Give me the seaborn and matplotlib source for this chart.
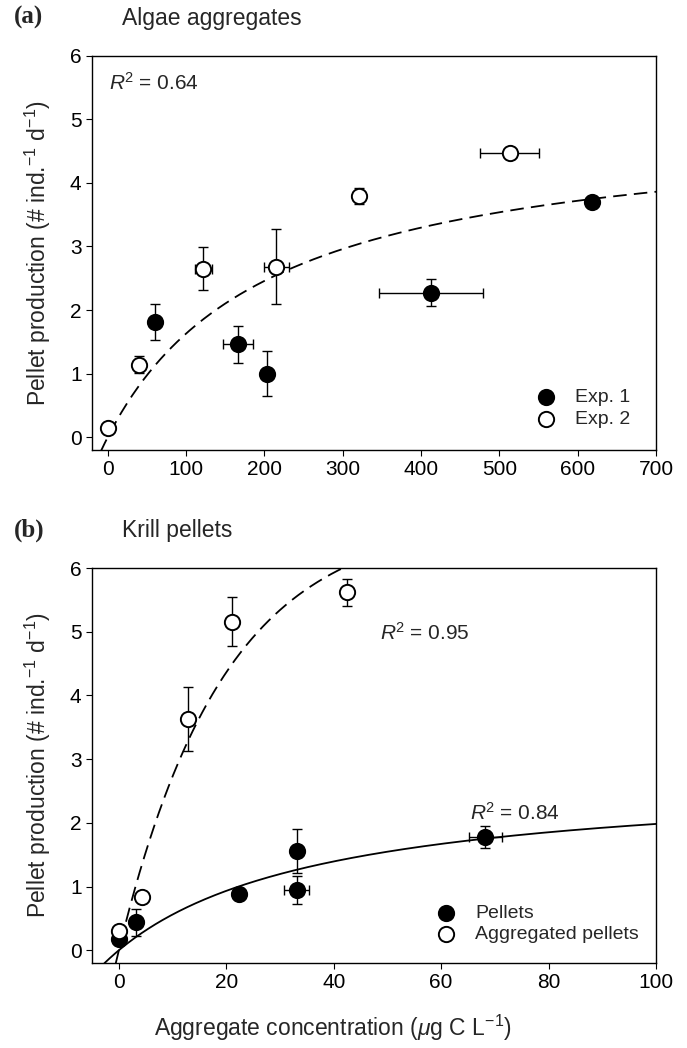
import numpy as np
import pandas as pd
import matplotlib
matplotlib.use("Agg")
import matplotlib.pyplot as plt
import seaborn as sns

# ---------------- data ----------------
# Panel (a) Algae aggregates
a_exp1_x = [61, 166, 204, 413, 618]
a_exp1_y = [1.81, 1.46, 1.00, 2.27, 3.69]
a_exp1_yerr = [0.28, 0.29, 0.35, 0.21, 0.05]
a_exp1_xerr = [0, 19, 0, 66, 0]

a_exp2_x = [0, 40, 122, 215, 321, 513]
a_exp2_y = [0.14, 1.14, 2.65, 2.68, 3.79, 4.46]
a_exp2_yerr = [0.0, 0.13, 0.34, 0.59, 0.13, 0.06]
a_exp2_xerr = [0, 0, 11, 16, 0, 38]

# Panel (b) Krill pellets
b_pel_x = [0, 3.1, 22.3, 33.1, 33.1, 68.2]
b_pel_y = [0.18, 0.44, 0.88, 1.56, 0.95, 1.78]
b_pel_yerr = [0.05, 0.21, 0.05, 0.34, 0.22, 0.17]
b_pel_xerr = [0, 0, 0, 0, 2.3, 3.1]

b_agg_x = [0, 4.3, 12.8, 21.0, 42.4]
b_agg_y = [0.30, 0.83, 3.63, 5.16, 5.62]
b_agg_yerr = [0.05, 0.06, 0.50, 0.39, 0.21]
b_agg_xerr = [0, 0, 0, 0, 0]

# fitted saturation curves (parameters)
a_fit_vmax, a_fit_k = 5.0, 207.0          # Michaelis-Menten, panel a
b_pel_vmax, b_pel_k = 2.76, 39.2          # Michaelis-Menten, pellets
b_agg_amax, b_agg_rate = 6.8, 0.0513      # exponential rise, aggregated pellets

r2_a = "0.64"
r2_b_agg = "0.95"
r2_b_pel = "0.84"

# ---------------- style ----------------
sns.set_theme(style="ticks")
plt.rcParams['font.family'] = ['Liberation Sans', 'DejaVu Sans']
plt.rcParams['mathtext.fontset'] = 'custom'
plt.rcParams['mathtext.rm'] = 'Liberation Sans'
plt.rcParams['mathtext.it'] = 'Liberation Sans:italic'
plt.rcParams['axes.edgecolor'] = 'black'
plt.rcParams['axes.linewidth'] = 1.0
plt.rcParams['xtick.color'] = 'black'
plt.rcParams['ytick.color'] = 'black'
plt.rcParams['xtick.major.size'] = 4
plt.rcParams['ytick.major.size'] = 4
plt.rcParams['xtick.major.width'] = 0.8
plt.rcParams['ytick.major.width'] = 0.8

fig = plt.figure(figsize=(6.87, 10.48), dpi=100)
L, R = 92 / 687, 656 / 687
axa = fig.add_axes([L, 1 - 450 / 1048, R - L, (450 - 55.5) / 1048])
axb = fig.add_axes([L, 1 - 963 / 1048, R - L, (963 - 568) / 1048])

TICK_FS = 15
LAB_FS = 16.5
LEG_FS = 14
MS = 11
ylab = r"Pellet production (# ind.$^{-1}$ d$^{-1}$)"


def draw_points(ax, x, y, xerr, yerr, filled, label, z):
    df = pd.DataFrame({"x": x, "y": y})
    ax.errorbar(x, y, yerr=yerr, xerr=xerr, fmt="none", ecolor="black",
                elinewidth=1.0, capsize=3.5, capthick=1.0, zorder=z)
    sns.scatterplot(data=df, x="x", y="y", ax=ax, s=MS ** 2, marker="o",
                    color="black" if filled else "white",
                    edgecolor="black", linewidth=1.4, zorder=z + 0.5,
                    label=label, legend=False)


# ---------- panel a ----------
xa = np.linspace(-9, 700, 400)
ya = a_fit_vmax * xa / (a_fit_k + xa)
sns.lineplot(x=xa, y=ya, ax=axa, color="black", lw=1.3, zorder=2)
axa.lines[-1].set_dashes((7.5, 4))

draw_points(axa, a_exp1_x, a_exp1_y, a_exp1_xerr, a_exp1_yerr, True, "Exp. 1", 3)
draw_points(axa, a_exp2_x, a_exp2_y, a_exp2_xerr, a_exp2_yerr, False, "Exp. 2", 4)

axa.set_xlim(-20, 700)
axa.set_ylim(-0.2, 6)
axa.set_xticks(range(0, 701, 100))
axa.set_yticks(range(0, 7))
axa.tick_params(labelsize=TICK_FS)
axa.set_xlabel("")
axa.set_ylabel(ylab, fontsize=LAB_FS, labelpad=12)
axa.text(0.03, 0.93, r"$\it{R}$$^2$ = " + r2_a, transform=axa.transAxes,
         fontsize=TICK_FS, ha="left", va="center")
h, l = axa.get_legend_handles_labels()
axa.legend(h, l, loc="lower right", frameon=False, fontsize=LEG_FS,
           bbox_to_anchor=(0.975, 0.025), handletextpad=0.5, labelspacing=0.25,
           borderaxespad=0.2)

# ---------- panel b ----------
xb1 = np.linspace(-2.7, 100, 400)
yb1 = b_pel_vmax * xb1 / (b_pel_k + xb1)
sns.lineplot(x=xb1, y=yb1, ax=axb, color="black", lw=1.3, zorder=2)

xb2 = np.linspace(-0.6, 44, 300)
yb2 = b_agg_amax * (1 - np.exp(-b_agg_rate * xb2))
sns.lineplot(x=xb2, y=yb2, ax=axb, color="black", lw=1.3, zorder=2)
axb.lines[-1].set_dashes((8, 4))

draw_points(axb, b_pel_x, b_pel_y, b_pel_xerr, b_pel_yerr, True, "Pellets", 3)
draw_points(axb, b_agg_x, b_agg_y, b_agg_xerr, b_agg_yerr, False, "Aggregated pellets", 4)

axb.set_xlim(-5, 100)
axb.set_ylim(-0.2, 6)
axb.set_xticks(range(0, 101, 20))
axb.set_yticks(range(0, 7))
axb.tick_params(labelsize=TICK_FS)
axb.set_ylabel(ylab, fontsize=LAB_FS, labelpad=12)
axb.set_xlabel(r"Aggregate concentration ($\it{\mu}$g C L$^{-1}$)",
               fontsize=LAB_FS, labelpad=14)
axb.xaxis.set_label_coords((333 - 92) / 564, -0.125)
axb.text(0.51, 0.835, r"$\it{R}$$^2$ = " + r2_b_agg, transform=axb.transAxes,
         fontsize=TICK_FS, ha="left", va="center")
axb.text(0.67, 0.38, r"$\it{R}$$^2$ = " + r2_b_pel, transform=axb.transAxes,
         fontsize=TICK_FS, ha="left", va="center")
h, l = axb.get_legend_handles_labels()
axb.legend(h, l, loc="lower right", frameon=False, fontsize=LEG_FS,
           bbox_to_anchor=(0.99, 0.02), handletextpad=0.5, labelspacing=0.2,
           borderaxespad=0.2)

# panel labels & titles
fig.text(14 / 687, 1 - 17 / 1048, "(a)", fontsize=18, fontweight="bold",
         family=["Liberation Serif"], ha="left", va="center")
fig.text(122 / 687, 1 - 18 / 1048, "Algae aggregates", fontsize=16.5,
         ha="left", va="center")
fig.text(14 / 687, 1 - 530 / 1048, "(b)", fontsize=18, fontweight="bold",
         family=["Liberation Serif"], ha="left", va="center")
fig.text(122 / 687, 1 - 530 / 1048, "Krill pellets", fontsize=16.5,
         ha="left", va="center")

fig.savefig("out.png", dpi=100, facecolor="white")
